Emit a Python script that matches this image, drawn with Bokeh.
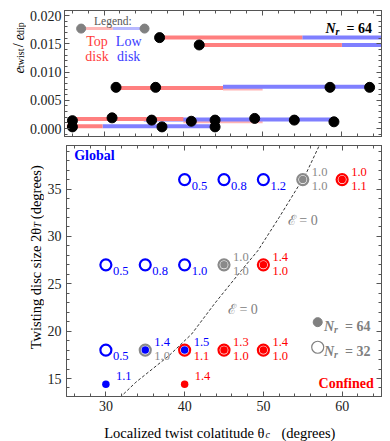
import math
from bokeh.plotting import figure
from bokeh.layouts import column, row
from bokeh.models import (Range1d, SingleIntervalTicker, FixedTicker, NumeralTickFormatter,
                          LinearAxis, Label)
from bokeh.core.properties import value
from bokeh.embed import file_html
from bokeh.resources import INLINE

FONT = "Liberation Serif"
RED, BLUE, GRAY = "#ff0000", "#0000ff", "#8a8a8a"
LRED, LBLUE, FRED = "#ff7f7f", "#7f7fff", "#ffb4b4"
FRAME = "#555555"

# ---------------- top panel data (e_twist / e_dip runs) ----------------
top_x0 = [37.0, 42.0, 31.5, 26.0, 25.3]
top_x1 = [55.0, 60.0, 45.0, 40.0, 29.8]
top_y = [0.0161, 0.0148, 0.0072, 0.0017, 0.0004]
faint_x0 = [45.0, 40.0]
faint_x1 = [50.0, 50.0]
faint_y = [0.0071, 0.0013]
low_x0 = [55.0, 60.0, 45.0, 35.0, 29.8]
low_x1 = [66.0, 66.0, 63.5, 59.0, 44.0]
low_y = [0.0161, 0.0148, 0.0074, 0.0016, 0.0004]
run_x = [37, 42, 31.5, 36.5, 58.5, 63.5, 26, 26, 31, 36, 37.3, 41, 44, 44, 49, 54, 59]
run_y = [0.0161, 0.0148, 0.0073, 0.0073, 0.0073, 0.0073, 0.0014, 0.0003, 0.0019, 0.0015,
         0.0003, 0.0013, 0.0015, 0.0003, 0.0018, 0.0015, 0.0012]
legend_x = [27.1, 31.1, 35.1]
legend_y = 0.0177

# ---------------- bottom panel data ----------------
# N_r = 32 runs (open rings)
r32_x = [40, 45, 50, 55, 60, 30, 35, 40, 45, 50, 30, 35, 40, 45, 50]
r32_y = [36, 36, 36, 36, 36, 27, 27, 27, 27, 27, 18, 18, 18, 18, 18]
r32_val = ["0.5", "0.8", "1.2", "1.0", "1.1", "0.5", "0.8", "1.0", "1.0", "1.0",
           "0.5", "1.0", "1.1", "1.0", "1.0"]
r32_cls = ["global", "global", "global", "marginal", "confined",
           "global", "global", "global", "marginal", "confined",
           "global", "marginal", "confined", "confined", "confined"]
# N_r = 64 runs (filled dots)
d64_x = [55, 60, 45, 50, 35, 40, 45, 50, 30, 40]
d64_y = [36, 36, 27, 27, 18, 18, 18, 18, 14.4, 14.4]
d64_val = ["1.0", "1.0", "1.0", "1.4", "1.4", "1.5", "1.3", "1.4", "1.1", "1.4"]
d64_cls = ["marginal", "confined", "marginal", "confined", "global", "global",
           "confined", "confined", "global", "confined"]
# E = 0 boundary (dashed)
curve_x = [31.8, 33.8, 35.9, 38.0, 40.9, 43.8, 47.2, 49.3, 52.0, 55.4, 57.1, 57.6]
curve_y = [13.0, 14.6, 16.0, 17.4, 19.7, 22.9, 26.4, 28.5, 32.0, 36.6, 39.6, 40.5]

COLORS = {"global": BLUE, "confined": RED, "marginal": GRAY}

X_RANGE = (25, 65)
Y1_RANGE = (-0.0014, 0.0209)
Y2_RANGE = (13.1, 39.6)
x_major, x_minor = 10, 2
y1_major, y1_minor = 0.005, 0.001
y2_major, y2_minor = 5, 1

xr = Range1d(*X_RANGE)
rot = math.pi / 2


def tick_lists(lo, hi, major, minor):
    n0 = int(math.ceil(lo / minor - 1e-9))
    n1 = int(math.floor(hi / minor + 1e-9))
    ratio = int(round(major / minor))
    majors = [round(k * minor, 6) for k in range(n0, n1 + 1) if k % ratio == 0]
    minors = [round(k * minor, 6) for k in range(n0, n1 + 1) if k % ratio != 0]
    return majors, minors


def style_common(ax):
    ax.axis_line_color = FRAME
    ax.axis_line_width = 1
    ax.major_tick_line_color = FRAME
    ax.minor_tick_line_color = FRAME
    ax.major_tick_in = 5
    ax.major_tick_out = 0
    ax.minor_tick_out = 0


def labelled_axis(ax, major, minor, fmt=None, standoff=5):
    style_common(ax)
    ax.ticker = SingleIntervalTicker(interval=major, num_minor_ticks=int(round(major / minor)))
    if fmt is not None:
        ax.formatter = fmt
    ax.minor_tick_in = 3
    ax.major_label_text_font = FONT
    ax.major_label_text_font_size = "14px"
    ax.major_label_text_color = "#222222"
    ax.major_label_standoff = standoff


def tick_only_axes(p, side, lo, hi, major, minor):
    majors, minors = tick_lists(lo, hi, major, minor)
    for vals, length in ((majors, 5), (minors, 3)):
        ax = LinearAxis(ticker=FixedTicker(ticks=[], minor_ticks=vals))
        style_common(ax)
        ax.minor_tick_in = length
        ax.major_label_standoff = 0
        p.add_layout(ax, side)


def prep(p):
    p.xgrid.visible = False
    p.ygrid.visible = False
    p.outline_line_color = FRAME
    p.background_fill_color = "white"
    p.border_fill_color = "white"


def lab(p, x, y, text, size, color, xo=0, yo=0, align="left", baseline="alphabetic",
        style="normal", angle=0.0):
    p.add_layout(Label(x=x, y=y, x_offset=xo, y_offset=yo, text=text, text_font=FONT,
                       text_font_size=f"{size}px", text_color=color, text_align=align,
                       text_baseline=baseline, text_font_style=style, angle=angle))


def label_fig(w, h):
    f = figure(width=w, height=h, x_range=Range1d(0, w), y_range=Range1d(0, h),
               x_axis_type=None, y_axis_type=None, output_backend="svg", title=None,
               toolbar_location=None, min_border=0)
    f.grid.visible = False
    f.outline_line_color = None
    f.background_fill_color = "white"
    f.border_fill_color = "white"
    return f


# page geometry (Bokeh's page has no body margin): 390 x 441
W_TOTAL = 390
W1, W2 = 26, 44
H1, H2, H3 = 140, 276, 25

# ======================= top figure =======================
p1 = figure(width=W_TOTAL - W1, height=H1, x_range=xr, y_range=Range1d(*Y1_RANGE),
            x_axis_location=None, output_backend="svg", toolbar_location=None, title=None,
            min_border_left=64 - W1, min_border_right=9, min_border_top=10, min_border_bottom=4)
prep(p1)
labelled_axis(p1.yaxis[0], y1_major, y1_minor, fmt=NumeralTickFormatter(format="0.000"), standoff=3)
tick_only_axes(p1, "below", *X_RANGE, x_major, x_minor)
tick_only_axes(p1, "above", *X_RANGE, x_major, x_minor)
tick_only_axes(p1, "right", *Y1_RANGE, y1_major, y1_minor)

p1.segment(x0=faint_x0, y0=faint_y, x1=faint_x1, y1=faint_y, line_color=FRED, line_width=4, line_cap="butt")
p1.segment(x0=low_x0, y0=low_y, x1=low_x1, y1=low_y, line_color=LBLUE, line_width=4, line_cap="butt")
p1.segment(x0=top_x0, y0=top_y, x1=top_x1, y1=top_y, line_color=LRED, line_width=4, line_cap="butt")
p1.scatter(run_x, run_y, size=10, color="black")

# legend inside top panel
p1.segment(x0=[legend_x[0]], y0=[legend_y], x1=[legend_x[1]], y1=[legend_y], line_color="#ffb8b8", line_width=3)
p1.segment(x0=[legend_x[1]], y0=[legend_y], x1=[legend_x[2]], y1=[legend_y], line_color="#b8b8ff", line_width=3)
p1.scatter([legend_x[0], legend_x[2]], [legend_y, legend_y], size=9, color="#808080")
lab(p1, legend_x[1], 0.0191, "Legend:", 11.5, "#555555", align="center", baseline="middle")
lab(p1, 29.1, 0.0155, "Top", 14, "#ff3c3c", align="center", baseline="middle")
lab(p1, 29.1, 0.0127, "disk", 14, "#ff3c3c", align="center", baseline="middle")
lab(p1, 33.1, 0.0155, "Low", 14, "#3c3cff", align="center", baseline="middle")
lab(p1, 33.1, 0.0127, "disk", 14, "#3c3cff", align="center", baseline="middle")

# N_r = 64 (top right)
lab(p1, 57.93, 0.0178, "N", 14, "black", style="bold italic")
lab(p1, 57.93, 0.0178, "r", 10, "black", xo=10, yo=-3, style="bold italic")
lab(p1, 57.93, 0.0178, "= 64", 14, "black", xo=21, style="bold")

# left strip with the y label  e_twist / e_dip
l1 = label_fig(W1, H1)
y0, bx = 70, 18
lab(l1, bx, y0, "e", 14, "black", style="italic", angle=rot)
lab(l1, bx + 2, y0 + 6.2, "twist", 10, "black", angle=rot)
lab(l1, bx, y0 + 29.2, "/", 14, "black", angle=rot)
lab(l1, bx, y0 + 36.6, "e", 14, "black", style="italic", angle=rot)
lab(l1, bx + 2, y0 + 42.8, "dip", 10, "black", angle=rot)

# ======================= bottom figure =======================
p2 = figure(width=W_TOTAL - W2, height=H2, x_range=xr, y_range=Range1d(*Y2_RANGE),
            output_backend="svg", toolbar_location=None, title=None,
            min_border_left=64 - W2, min_border_right=9, min_border_top=5, min_border_bottom=20)
prep(p2)
labelled_axis(p2.xaxis[0], x_major, x_minor, standoff=4)
labelled_axis(p2.yaxis[0], y2_major, y2_minor, standoff=5)
tick_only_axes(p2, "above", *X_RANGE, x_major, x_minor)
tick_only_axes(p2, "right", *Y2_RANGE, y2_major, y2_minor)

p2.line(curve_x, curve_y, line_color="black", line_width=0.8, line_dash="3 2")

ring_colors = [COLORS[c] for c in r32_cls]
dot_colors = [COLORS[c] for c in d64_cls]
p2.scatter(r32_x, r32_y, marker="circle", size=11, fill_color="white", line_color=ring_colors, line_width=2.2)
p2.scatter(d64_x, d64_y, marker="circle", size=7.5, fill_color=dot_colors, line_color=None)

both = set(zip(r32_x, r32_y)) & set(zip(d64_x, d64_y))
r32_xo = [9 if (x, y) in both else 7 for x, y in zip(r32_x, r32_y)]
d64_xo = [9 if (x, y) in both else 10 for x, y in zip(d64_x, d64_y)]
p2.text(x=r32_x, y=r32_y, text=r32_val, x_offset=r32_xo, y_offset=[6] * len(r32_x),
        text_color=ring_colors, text_font=value(FONT), text_font_size=value("12.5px"),
        text_baseline="middle", text_align="left")
p2.text(x=d64_x, y=d64_y, text=d64_val, x_offset=d64_xo, y_offset=[-8] * len(d64_x),
        text_color=dot_colors, text_font=value(FONT), text_font_size=value("12.5px"),
        text_baseline="middle", text_align="left")

# E = 0 labels
lab(p2, 55.0, 31.7, "\u2130 = 0", 14, "#808080", align="center", baseline="middle")
lab(p2, 47.4, 22.3, "\u2130 = 0", 14, "#808080", align="center", baseline="middle")

# corner labels
lab(p2, 25, 39.6, "Global", 14, BLUE, xo=7.7, yo=-10, baseline="middle", style="bold")
lab(p2, 65, 13.1, "Confined", 14, RED, xo=-7.7, yo=12.7, align="right", baseline="middle", style="bold")

# legend (N_r)
p2.scatter([56.9], [20.95], size=9, color="#808080")
p2.scatter([56.9], [18.3], size=12, fill_color="white", line_color="#808080", line_width=1.2)
for ly, txt in [(20.5, "= 64"), (17.85, "= 32")]:
    lab(p2, 57.7, ly, "N", 14, "#808080", style="bold italic")
    lab(p2, 57.7, ly, "r", 10, "#808080", xo=10, yo=-3, style="bold italic")
    lab(p2, 57.7, ly, txt, 14, "#808080", xo=21, style="bold")

# left strip with the y label  Twisting disc size 2θ_T (degrees)
l2 = label_fig(W2, H2)
J, yx = 185.5, 35
lab(l2, yx, J, "Twisting disc size 2\u03b8", 14.5, "black", align="right", angle=rot)
lab(l2, yx + 2, J, "T", 10, "black", style="italic", angle=rot)
lab(l2, yx, J + 9.5, "(degrees)", 14.5, "black", angle=rot)

# bottom strip with the x label  Localized twist colatitude θ_c (degrees)
l3 = label_fig(W_TOTAL, H3)
XJ, XB = 264, 9
lab(l3, XJ, XB, "Localized twist colatitude \u03b8", 14.5, "black", align="right")
lab(l3, XJ + 1, XB - 2, "c", 10, "black", style="italic")
lab(l3, XJ + 17, XB, "(degrees)", 14.5, "black")

layout = column(row(l1, p1), row(l2, p2), l3)
open("out.html", "w").write(file_html(layout, INLINE))
